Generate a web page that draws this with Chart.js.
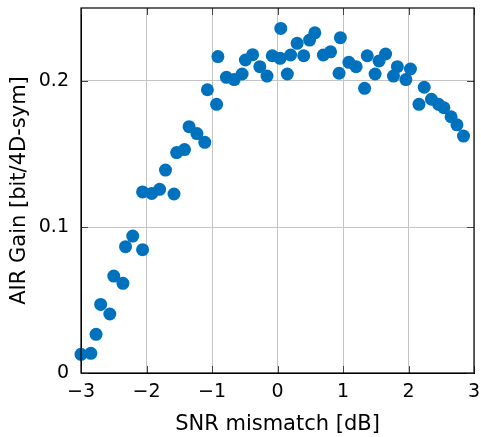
<!DOCTYPE html>
<html>
<head>
<meta charset="UTF-8">
<title>AIR gain vs SNR mismatch</title>
<script src="https://cdn.jsdelivr.net/npm/chart.js"></script>
<style>
  body { margin: 0; background: #fff; }
  #wrap { width: 481px; height: 437px; }
</style>
</head>
<body>
<div id="wrap"><canvas id="c"></canvas></div>
<script>
// SNR mismatch [dB]
const snrMismatch = [
  -3.00, -2.85, -2.77, -2.70, -2.56, -2.50, -2.36, -2.32, -2.21, -2.06,
  -2.06, -1.92, -1.80, -1.71, -1.58, -1.54, -1.42, -1.35, -1.23, -1.11,
  -1.07, -0.93, -0.91, -0.78, -0.66, -0.54, -0.49, -0.38, -0.27, -0.16,
  -0.08, 0.04, 0.05, 0.15, 0.20, 0.30, 0.40, 0.49, 0.57, 0.70,
  0.81, 0.94, 0.96, 1.09, 1.20, 1.33, 1.37, 1.49, 1.55, 1.65,
  1.77, 1.83, 1.96, 2.03, 2.16, 2.24, 2.35, 2.46, 2.54, 2.65,
  2.74, 2.84
];
// AIR gain [bit/4D-sym]
const airGain = [
  0.0128, 0.0135, 0.0265, 0.0470, 0.0404, 0.0664, 0.0614, 0.0865, 0.0938, 0.0845,
  0.1240, 0.1230, 0.1258, 0.1390, 0.1226, 0.1510, 0.1530, 0.1687, 0.1640, 0.1580,
  0.1940, 0.1840, 0.2167, 0.2025, 0.2010, 0.2048, 0.2144, 0.2180, 0.2098, 0.2034,
  0.2173, 0.2155, 0.2360, 0.2048, 0.2178, 0.2258, 0.2173, 0.2280, 0.2330, 0.2178,
  0.2200, 0.2053, 0.2297, 0.2128, 0.2098, 0.1950, 0.2173, 0.2048, 0.2137, 0.2185,
  0.2034, 0.2098, 0.2010, 0.2082, 0.1840, 0.1957, 0.1875, 0.1840, 0.1817, 0.1755,
  0.1700, 0.1623
];
const xTicks = [-3, -2, -1, 0, 1, 2, 3];
const yTicks = [0, 0.1, 0.2];

const fontFamily = "'DejaVu Sans', sans-serif";

// frame plus inward tick marks, pgfplots style
const framePlugin = {
  id: 'pgfFrame',
  afterDatasetsDraw(chart) {
    const ctx = chart.ctx;
    const a = chart.chartArea;
    const sx = chart.scales.x, sy = chart.scales.y;
    ctx.save();
    ctx.strokeStyle = '#444';
    ctx.lineWidth = 1;
    ctx.beginPath();
    xTicks.forEach(v => {
      const px = Math.round(sx.getPixelForValue(v)) + 0.5;
      ctx.moveTo(px, a.bottom); ctx.lineTo(px, a.bottom - 7);
      ctx.moveTo(px, a.top); ctx.lineTo(px, a.top + 7);
    });
    yTicks.forEach(v => {
      const py = Math.round(sy.getPixelForValue(v)) + 0.5;
      ctx.moveTo(a.left, py); ctx.lineTo(a.left + 7, py);
      ctx.moveTo(a.right, py); ctx.lineTo(a.right - 7, py);
    });
    ctx.stroke();
    ctx.strokeStyle = '#000';
    ctx.lineWidth = 1.2;
    ctx.strokeRect(a.left, a.top, a.right - a.left, a.bottom - a.top);
    ctx.restore();
  }
};

new Chart(document.getElementById('c'), {
  type: 'scatter',
  data: {
    datasets: [{
      data: snrMismatch.map((x, i) => ({ x: x, y: airGain[i] })),
      backgroundColor: '#0072BD',
      borderColor: '#0072BD',
      borderWidth: 0,
      pointRadius: 6.5,
      pointHoverRadius: 6.5,
      clip: false
    }]
  },
  options: {
    responsive: true,
    maintainAspectRatio: false,
    animation: false,
    layout: { padding: { top: 8, right: 7, left: 0, bottom: 0 } },
    plugins: { legend: { display: false }, tooltip: { enabled: false } },
    scales: {
      x: {
        type: 'linear',
        min: -3, max: 3,
        afterBuildTicks: ax => { ax.ticks = xTicks.map(v => ({ value: v })); },
        afterFit: ax => { ax.height = 64; ax.paddingLeft = 0; ax.paddingRight = 0; },
        grid: { color: '#c4c4c4', drawTicks: false },
        border: { display: true, color: '#000' },
        ticks: {
          color: '#000', padding: 8,
          font: { family: fontFamily, size: 19 },
          callback: v => v < 0 ? '\u2212' + Math.abs(v) : String(v)
        },
        title: {
          display: true, text: 'SNR mismatch [dB]', color: '#000',
          font: { family: fontFamily, size: 21 }, padding: { top: 0, bottom: 0 }
        }
      },
      y: {
        type: 'linear',
        min: 0, max: 0.25,
        afterBuildTicks: ax => { ax.ticks = yTicks.map(v => ({ value: v })); },
        afterFit: ax => { ax.width = 81; ax.paddingTop = 0; ax.paddingBottom = 0; },
        grid: { color: '#c4c4c4', drawTicks: false },
        border: { display: true, color: '#000' },
        ticks: {
          color: '#000', padding: 12,
          font: { family: fontFamily, size: 19 },
          callback: v => String(v)
        },
        title: {
          display: true, text: 'AIR Gain [bit/4D-sym]', color: '#000',
          font: { family: fontFamily, size: 21 }, padding: { top: 7, bottom: 0 }
        }
      }
    }
  },
  plugins: [framePlugin]
});
</script>
</body>
</html>
